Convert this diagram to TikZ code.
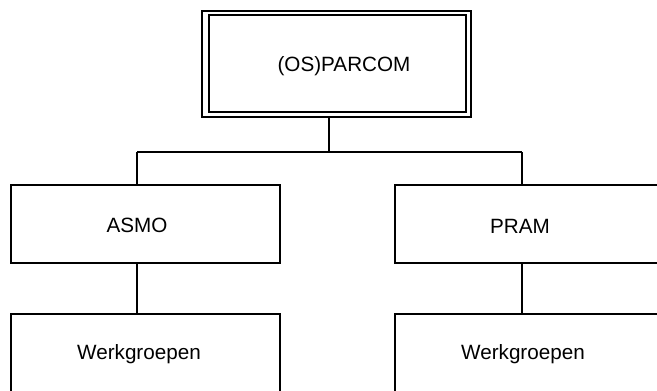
\documentclass[tikz,border=0pt]{standalone}
\usepackage{fontspec}
\setmainfont{Liberation Sans}
\begin{document}
\begin{tikzpicture}[x=0.75pt,y=-0.75pt,
  box/.style={draw=black, line width=1.5pt, rectangle, inner sep=0pt},
  lbl/.style={font=\fontsize{15.5pt}{18pt}\selectfont, inner sep=0pt, anchor=center},
  conn/.style={draw=black, line width=1.5pt}]
\useasboundingbox (0,0) rectangle (657,390);
\clip (0,0) rectangle (657,390);
\fill[white] (0,0) rectangle (657,390);
% top double box
\node[box, minimum width=269.5*0.75pt, minimum height=106.5*0.75pt] (topout) at (336.25,63.75) {};
\node[box, minimum width=257*0.75pt, minimum height=97*0.75pt] (topin) at (337,63) {};
\node[lbl] (ttop) at (344,66) {(OS)PARCOM};
% second row
\node[box, minimum width=269*0.75pt, minimum height=78.5*0.75pt] (asmo) at (145.5,223.75) {};
\node[lbl] (tasmo) at (137,225.5) {ASMO};
\node[box, minimum width=270*0.75pt, minimum height=78.5*0.75pt] (pram) at (529.5,223.75) {};
\node[lbl] (tpram) at (520,226) {PRAM};
% third row
\node[box, minimum width=269*0.75pt, minimum height=100*0.75pt] (wl) at (145.5,363.5) {};
\node[lbl] (twl) at (139,354) {Werkgroepen};
\node[box, minimum width=270*0.75pt, minimum height=100*0.75pt] (wr) at (529.5,363.5) {};
\node[lbl] (twr) at (523,354) {Werkgroepen};
% connectors
\coordinate (j) at (329,152);
\coordinate (jl) at (137,152);
\coordinate (jr) at (522,152);
\draw[conn] (topout.south -| j) -- (j);
\draw[conn] (jl) -- (jr);
\draw[conn] (jl) -- (asmo.north -| jl);
\draw[conn] (jr) -- (pram.north -| jr);
\draw[conn] (asmo.south -| jl) -- (wl.north -| jl);
\draw[conn] (pram.south -| jr) -- (wr.north -| jr);
\end{tikzpicture}
\end{document}
